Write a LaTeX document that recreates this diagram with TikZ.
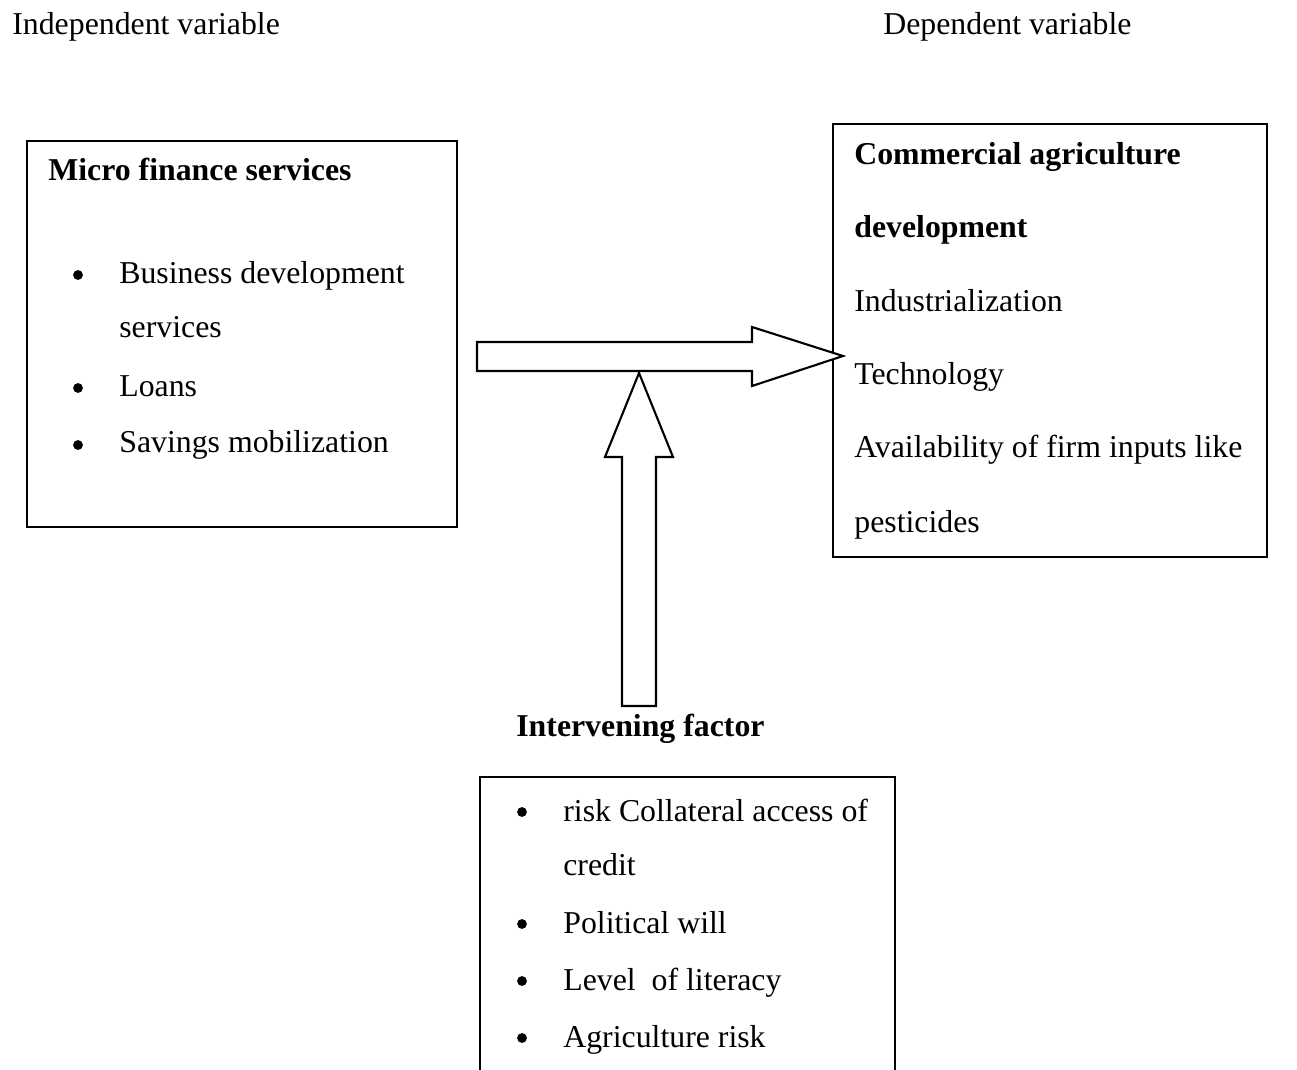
\documentclass[tikz,border=0pt]{standalone}
\usepackage{fontspec}
\setmainfont{Liberation Serif}
\begin{document}
\begin{tikzpicture}[x=0.02cm,y=-0.02cm,
  txt/.style={anchor=base west,inner sep=0pt,font=\fontsize{18.1pt}{20pt}\selectfont},
  btxt/.style={txt,font=\fontsize{18.1pt}{20pt}\selectfont\bfseries},
  frame/.style={draw=black,line width=1.2pt},
  bigarrow/.style={draw=black,line width=1.2pt,fill=white,line join=miter},
  dot/.style={circle,fill=black,inner sep=0pt,minimum size=5.6pt}]
\useasboundingbox (0,0) rectangle (1297,1070);
% headers
\node[txt] (indep) at (12,35) {Independent variable};
\node[txt] (dep) at (883,35) {Dependent variable};
% left box
\draw[frame] (27,141) rectangle (457,527);
\node[btxt] (mfs) at (48,181) {Micro finance services};
\node[dot] (b1) at (78,275) {};
\node[txt] (l1) at (119,284) {Business development};
\node[txt] (l1b) at (119,338) {services};
\node[dot] (b2) at (78,388) {};
\node[txt] (l2) at (119,397) {Loans};
\node[dot] (b3) at (78,445) {};
\node[txt] (l3) at (119,453) {Savings mobilization};
% right box
\draw[frame] (833,124) rectangle (1267,557);
\node[btxt] (r1) at (854,165) {Commercial agriculture};
\node[btxt] (r2) at (854,238) {development};
\node[txt] (r3) at (854,312) {Industrialization};
\node[txt] (r4) at (854,385) {Technology};
\node[txt] (r5) at (854,458) {Availability of firm inputs like};
\node[txt] (r6) at (854,532) {pesticides};
% horizontal arrow
\draw[bigarrow] (477,342) -- (752,342) -- (752,327) -- (843,356) -- (752,386) -- (752,371) -- (477,371) -- cycle;
% vertical arrow
\draw[bigarrow] (622,706) -- (622,457) -- (605,457) -- (639,373) -- (673,457) -- (656,457) -- (656,706) -- cycle;
% intervening
\node[btxt] (intv) at (516,736) {Intervening factor};
\draw[frame] (480,1072) -- (480,777) -- (895,777) -- (895,1072);
\node[dot] (c1) at (522,812) {};
\node[txt] (k1) at (563,821) {risk Collateral access of};
\node[txt] (k1b) at (563,875) {credit};
\node[dot] (c2) at (522,924) {};
\node[txt] (k2) at (563,933) {Political will};
\node[dot] (c3) at (522,981) {};
\node[txt] (k3) at (563,990) {Level\ \ of literacy};
\node[dot] (c4) at (522,1038) {};
\node[txt] (k4) at (563,1047) {Agriculture risk};
\end{tikzpicture}
\end{document}
